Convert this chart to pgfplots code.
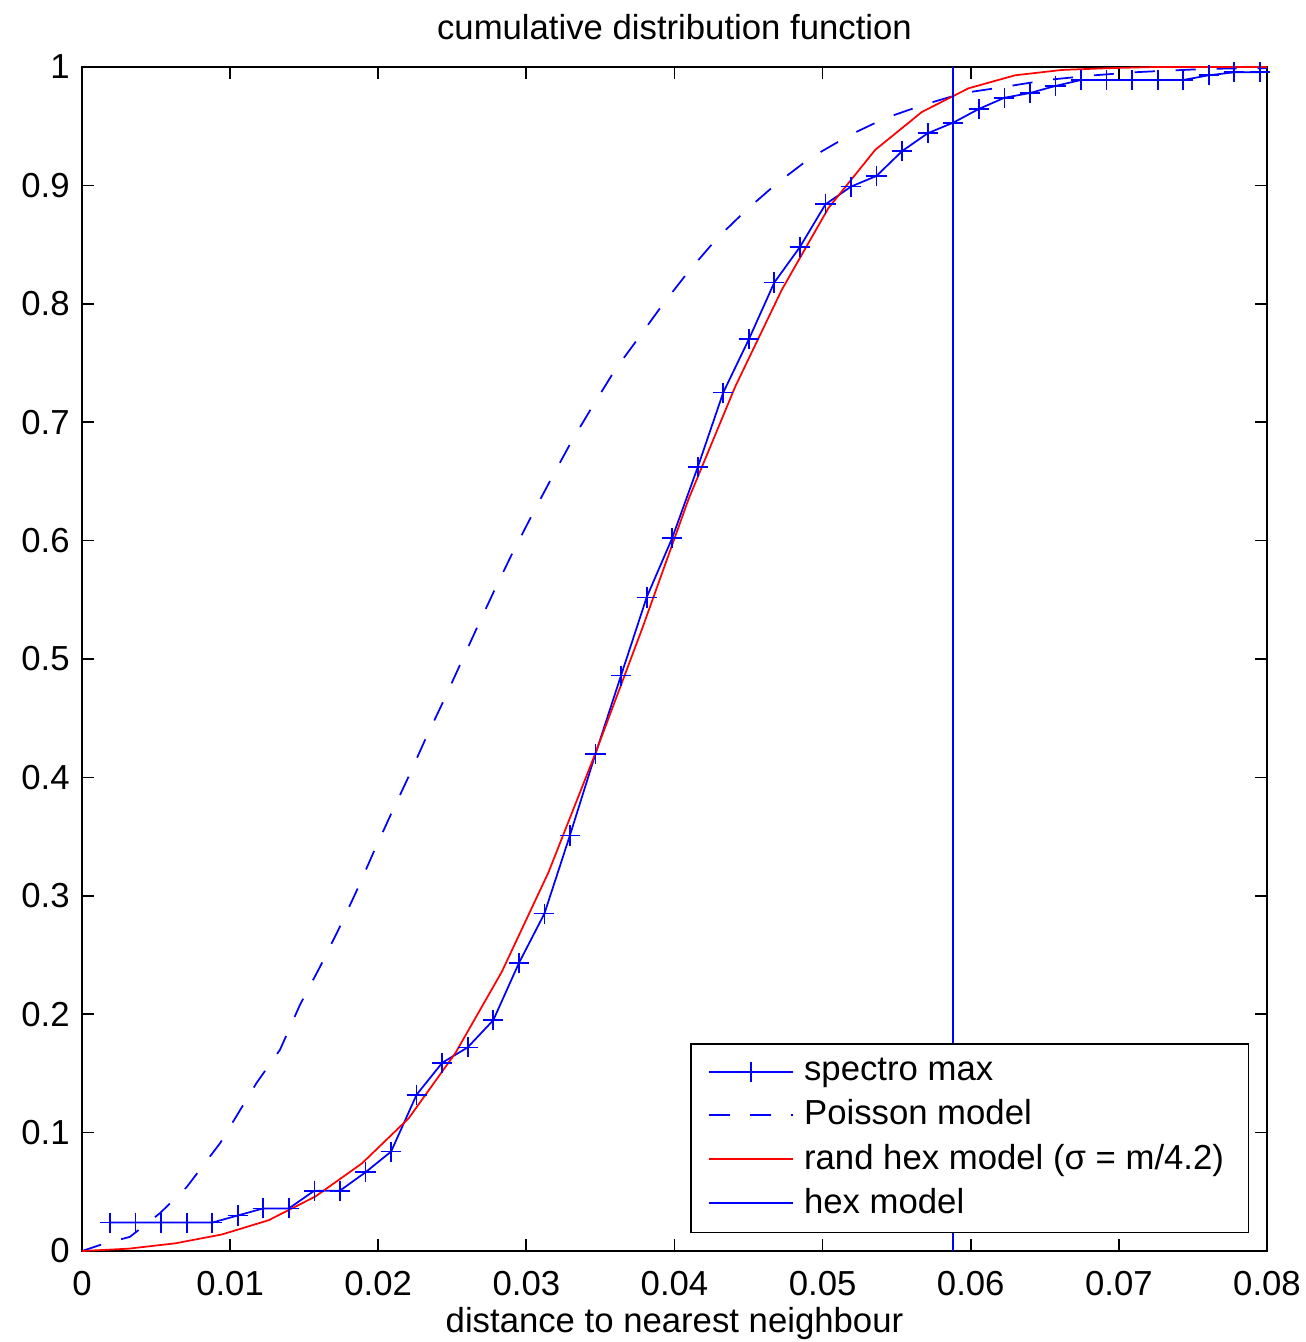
\documentclass[border=0pt]{standalone}
\usepackage{fontspec}
\setmainfont{Liberation Sans}
\usepackage{pgfplots}
\pgfplotsset{compat=1.18}
\begin{document}
\begin{tikzpicture}
\begin{axis}[
  name=ax,
  scale only axis,
  width=341.3pt, height=341pt,
  xmin=0, xmax=0.08, ymin=0, ymax=1,
  xtick={0,0.01,0.02,0.03,0.04,0.05,0.06,0.07,0.08},
  xticklabels={0,0.01,0.02,0.03,0.04,0.05,0.06,0.07,0.08},
  ytick={0,0.1,0.2,0.3,0.4,0.5,0.6,0.7,0.8,0.9,1},
  yticklabels={0,0.1,0.2,0.3,0.4,0.5,0.6,0.7,0.8,0.9,1},
  tick align=inside, xtick pos=both, ytick pos=both,
  major tick length=3.4pt,
  tick style={black, line width=0.5pt},
  axis line style={line width=0.6pt},
  /pgf/number format/assume math mode=true,
  ticklabel style={font=\fontsize{10}{12}\selectfont},
  xticklabel style={anchor=base, yshift=-12.7pt},
  title={cumulative distribution function},
  title style={at={(0.5,1)}, anchor=base, yshift=2pt, font=\fontsize{10}{12}\selectfont},
  xlabel={distance to nearest neighbour},
  xlabel style={at={(0.5,0)}, anchor=base, yshift=-23.6pt, font=\fontsize{10}{12}\selectfont},
  legend cell align=left,
  legend image code/.code={\draw[mark repeat=2,mark phase=2] plot coordinates {(0pt,0pt) (12pt,0pt) (24pt,0pt)};},
  legend style={at={(0.985,0.015)}, anchor=south east, draw=black, line width=0.5pt, fill=white,
    font=\fontsize{10}{12}\selectfont, inner xsep=5pt, inner ysep=2pt, row sep=0pt,
    /tikz/every odd column/.append style={column sep=1pt}},
]
\addplot[blue, line width=0.5pt, mark=+, mark size=2.9pt, mark options={solid, line width=0.5pt}] coordinates {
(0.00189,0.024) (0.00362,0.024) (0.00534,0.024) (0.00707,0.024) (0.00879,0.024)
(0.01052,0.030) (0.01224,0.036) (0.01397,0.036) (0.01569,0.051) (0.01742,0.051)
(0.01914,0.0665) (0.02087,0.084) (0.02259,0.132) (0.02432,0.159) (0.02604,0.172)
(0.02777,0.195) (0.02949,0.243) (0.03122,0.285) (0.03294,0.351) (0.03467,0.420)
(0.03639,0.486) (0.03812,0.552) (0.03984,0.602) (0.04157,0.662) (0.04329,0.725)
(0.04502,0.770) (0.04674,0.818) (0.04847,0.848) (0.05019,0.884) (0.05192,0.899)
(0.05364,0.908) (0.05537,0.929) (0.05709,0.944) (0.05882,0.953) (0.06054,0.9645)
(0.06227,0.974) (0.06399,0.978) (0.06572,0.984) (0.06744,0.989) (0.06917,0.989)
(0.07089,0.989) (0.07262,0.989) (0.07434,0.989) (0.07607,0.993) (0.07779,0.9955)
(0.07952,0.9955)
};
\addlegendentry{spectro max}
\addplot[blue, line width=0.5pt, dash pattern=on 5.8pt off 6pt] coordinates {
(0,0) (0.0012,0.005) (0.00324,0.012) (0.00527,0.032) (0.00707,0.054) (0.00932,0.091)
(0.01179,0.142) (0.01337,0.170) (0.01472,0.208) (0.01607,0.240) (0.0173,0.271)
(0.0185,0.303) (0.01966,0.336) (0.02079,0.367) (0.02199,0.399) (0.02316,0.4316)
(0.02435,0.463) (0.02552,0.495) (0.02669,0.527) (0.02788,0.559) (0.02912,0.591)
(0.0304,0.622) (0.03171,0.653) (0.03306,0.684) (0.03452,0.7145) (0.03598,0.744)
(0.03756,0.771) (0.03924,0.800) (0.04093,0.827) (0.04285,0.855) (0.04483,0.879)
(0.04694,0.902) (0.04915,0.923) (0.05185,0.9426) (0.05421,0.9567) (0.0568,0.968)
(0.0595,0.978) (0.06218,0.983) (0.06513,0.989) (0.06805,0.9927) (0.07098,0.9955)
(0.07345,0.997) (0.07615,0.9985) (0.08,0.999)
};
\addlegendentry{Poisson model}
\addplot[red, line width=0.5pt] coordinates {
(0,0) (0.00315,0.002) (0.0063,0.0065) (0.00945,0.014) (0.0126,0.026) (0.01575,0.046)
(0.0189,0.074) (0.02205,0.112) (0.0252,0.167) (0.02835,0.236) (0.0315,0.320)
(0.03465,0.420) (0.0378,0.525) (0.04095,0.635) (0.0441,0.730) (0.04725,0.812)
(0.0504,0.881) (0.05355,0.930) (0.0567,0.962) (0.05985,0.982) (0.063,0.993)
(0.06615,0.9975) (0.0693,0.999) (0.07245,1.0) (0.0756,1.0) (0.07875,1.0) (0.08,1.0)
};
\addlegendentry{rand hex model (σ = m/4.2)}
\addplot[blue, line width=0.5pt] coordinates {(0.0588,0) (0.0588,1)};
\addlegendentry{hex model}
\end{axis}
\pgfresetboundingbox
\path[use as bounding box] ([xshift=-23.6pt,yshift=-26.2pt]ax.south west) rectangle ([xshift=11.2pt,yshift=19.3pt]ax.north east);
\end{tikzpicture}
\end{document}
